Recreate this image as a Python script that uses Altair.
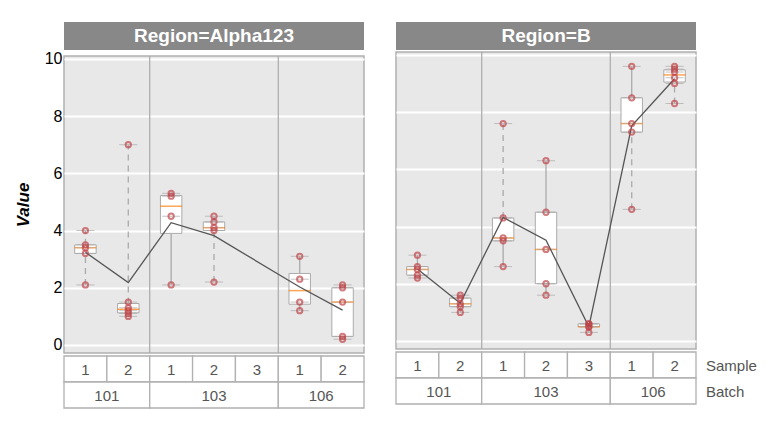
import pandas as pd
import altair as alt

# slot layout per panel: (batch, sample)
slots = [("101", "1"), ("101", "2"), ("103", "1"), ("103", "2"), ("103", "3"), ("106", "1"), ("106", "2")]
batches = [("101", 0, 2), ("103", 2, 5), ("106", 5, 7)]

alpha_values = [
    [4.0, 3.5, 3.4, 3.2, 2.1],
    [7.0, 1.5, 1.3, 1.2, 1.1, 1.0],
    [5.3, 5.2, 4.5, 2.1],
    [4.5, 4.3, 4.1, 4.0, 2.2],
    [],
    [3.1, 2.3, 1.5, 1.2],
    [2.1, 2.0, 1.5, 0.3, 0.2],
]
b_values = [
    [3.0, 2.6, 2.5, 2.3, 2.2],
    [1.6, 1.5, 1.3, 1.2, 1.0],
    [7.6, 4.3, 3.6, 3.5, 2.6],
    [6.3, 4.5, 3.2, 2.0, 1.6],
    [0.6, 0.6, 0.5, 0.5, 0.3],
    [9.6, 8.5, 7.6, 7.3, 4.6],
    [9.6, 9.5, 9.4, 9.2, 9.0, 8.3],
]

FONT = "Liberation Sans"
W, H = 300, 297
xs = alt.Scale(domain=[0, 7], nice=False, zero=False)
ys = alt.Scale(domain=[-0.28, 10.1], nice=False, zero=False)


def panel(name, values, first):
    pts, stats, whisk = [], [], []
    for i, vals in enumerate(values):
        if not vals:
            continue
        s = pd.Series(vals)
        q1, q3, med = s.quantile(0.25), s.quantile(0.75), s.median()
        iqr = q3 - q1
        x = i + 0.5
        stats.append(dict(x=x, xl=x - 0.25, xr=x + 0.25, q1=q1, q3=q3, med=med, mean=s.mean()))
        whisk.append(dict(x=x, a=q3, b=s.max(), dash=bool(s.max() > q3 + 1.5 * iqr)))
        whisk.append(dict(x=x, a=s.min(), b=q1, dash=bool(s.min() < q1 - 1.5 * iqr)))
        for v in vals:
            pts.append(dict(x=x, v=v))
    pts, stats, whisk = pd.DataFrame(pts), pd.DataFrame(stats), pd.DataFrame(whisk)

    yax = alt.Axis(values=[0, 2, 4, 6, 8, 10], grid=True, gridColor="white", gridWidth=2,
                   domain=False, ticks=False, labelFontSize=16, labelColor="black",
                   labelFont=FONT, title="Value" if first else None, titleFont=FONT,
                   titleFontSize=17, titleFontStyle="italic", titleFontWeight="bold",
                   titleColor="black", labels=first, titlePadding=12)
    X = lambda f: alt.X(f, scale=xs, axis=None)

    seps = alt.Chart(pd.DataFrame({"x": [2, 5]})).mark_rule(color="#aaaaaa", strokeWidth=1.2).encode(
        x=X("x:Q"), y=alt.value(0), y2=alt.value(H))
    wh = alt.Chart(whisk).mark_rule(color="#aaaaaa", strokeWidth=1.3).encode(
        x=X("x:Q"), y=alt.Y("a:Q", scale=ys, axis=yax), y2="b:Q",
        strokeDash=alt.condition("datum.dash", alt.value([6, 5]), alt.value([1, 0])))
    box = alt.Chart(stats).mark_rect(fill="white", stroke="#aaaaaa", strokeWidth=1).encode(
        x=X("xl:Q"), x2="xr:Q", y=alt.Y("q1:Q", scale=ys), y2="q3:Q")
    med = alt.Chart(stats).mark_tick(color="#ff7f0e", thickness=1.5, size=22, orient="horizontal").encode(
        x=X("x:Q"), y=alt.Y("med:Q", scale=ys))
    caps = alt.Chart(pts).mark_tick(color="#aaaaaa", thickness=1, size=18, orient="horizontal").encode(
        x=X("x:Q"), y=alt.Y("v:Q", scale=ys))
    line = alt.Chart(stats).mark_line(color="#555555", strokeWidth=1.3).encode(
        x=X("x:Q"), y=alt.Y("mean:Q", scale=ys))
    dots = alt.Chart(pts).mark_point(shape="circle", filled=False, color="#c0454a", strokeWidth=2, size=28).encode(
        x=X("x:Q"), y=alt.Y("v:Q", scale=ys))
    main = alt.layer(seps, wh, box, med, caps, line, dots).properties(
        width=W, height=H, view=alt.ViewConfig(fill="#e8e8e8", stroke="#b0b0b0", strokeWidth=1.5))

    head = alt.layer(
        alt.Chart(pd.DataFrame({"t": [name]})).mark_rect(color="#888888").encode(
            x=alt.value(0), x2=alt.value(W), y=alt.value(0), y2=alt.value(28)),
        alt.Chart(pd.DataFrame({"t": [name]})).mark_text(color="white", font=FONT, fontSize=19, fontWeight="bold").encode(
            x=alt.value(W / 2), y=alt.value(14), text="t:N"),
    ).properties(width=W, height=28, view=alt.ViewConfig(stroke=None))

    sdf = pd.DataFrame([dict(x0=i, x1=i + 1, xm=i + 0.5, t=s) for i, (b, s) in enumerate(slots)])
    bdf = pd.DataFrame([dict(x0=a, x1=c, xm=(a + c) / 2, t=b) for b, a, c in batches])
    cell = dict(fill="white", stroke="#b0b0b0", strokeWidth=1.3)
    txt = dict(font=FONT, fontSize=15, color="#555555")
    lay = [
        alt.Chart(sdf).mark_rect(**cell).encode(x=X("x0:Q"), x2="x1:Q", y=alt.value(0), y2=alt.value(26)),
        alt.Chart(sdf).mark_text(**txt).encode(x=X("xm:Q"), y=alt.value(14), text="t:N"),
        alt.Chart(bdf).mark_rect(**cell).encode(x=X("x0:Q"), x2="x1:Q", y=alt.value(26), y2=alt.value(52)),
        alt.Chart(bdf).mark_text(**txt).encode(x=X("xm:Q"), y=alt.value(40), text="t:N"),
    ]
    if not first:
        rows = pd.DataFrame({"t": ["Sample", "Batch"], "yy": [14, 40]})
        lay.append(alt.Chart(rows).mark_text(align="left", **txt).encode(
            x=alt.value(W + 10), y=alt.Y("yy:Q", scale=None), text="t:N"))
    labels = alt.layer(*lay).properties(width=W, height=52, view=alt.ViewConfig(stroke=None))

    return alt.vconcat(head, main, labels, spacing=0).resolve_scale(x="independent", y="independent")


chart = alt.hconcat(
    panel("Region=Alpha123", alpha_values, True),
    panel("Region=B", b_values, False),
    spacing=30,
).configure_view(stroke=None).properties(padding={"left": 5, "top": 14, "right": 5, "bottom": 5})

chart.save("out.html", embed_options={"renderer": "svg", "actions": False})
